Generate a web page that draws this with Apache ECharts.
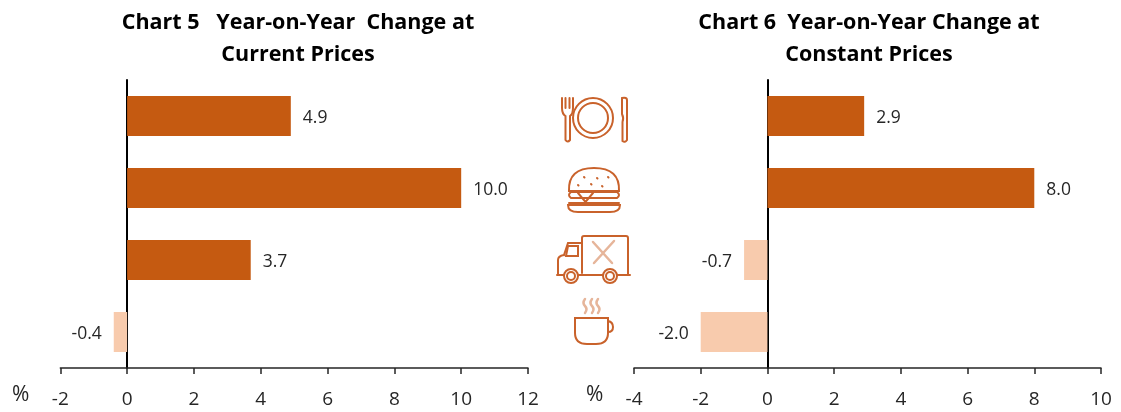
<!DOCTYPE html>
<html>
<head>
<meta charset="utf-8">
<style>
  html, body { margin: 0; padding: 0; background: #fff; }
  #chart { width: 1121px; height: 412px; }
</style>
<script src="https://cdn.jsdelivr.net/npm/echarts@6/dist/echarts.min.js"></script>
</head>
<body>
<div id="chart"></div>
<script>
const categories = ['Restaurants', 'Fast food', 'Food trucks', 'Cafes']
const currentPrices = [4.9, 10.0, 3.7, -0.4]
const constantPrices = [2.9, 8.0, -0.7, -2.0]

const FONT = '"Open Sans", "Noto Sans", sans-serif'
const BAR_COLOR = '#C55A11'
const NEG_COLOR = '#F8CBAD'
const ICON_COLOR = '#C9622B'
const ICON_PALE = '#E6B59A'

function barSeries(values, xIdx, yIdx) {
  return {
    type: 'bar',
    xAxisIndex: xIdx,
    yAxisIndex: yIdx,
    barWidth: 40,
    data: values.map((v) => ({
      value: v,
      itemStyle: { color: v < 0 ? NEG_COLOR : BAR_COLOR },
    })),
    label: {
      show: true,
      position: 'outside',
      distance: 12,
      offset: [0, 2],
      fontFamily: FONT,
      fontSize: 17.5,
      color: '#262626',
      formatter: (p) => p.value.toFixed(1),
    },
    silent: true,
  }
}

function xAxis(grid, min, max) {
  return {
    type: 'value',
    gridIndex: grid,
    position: 'bottom',
    min,
    max,
    interval: 2,
    splitLine: { show: false },
    axisLine: { show: true, onZero: false, lineStyle: { color: '#262626', width: 1.5 } },
    axisTick: { show: true, length: 6, lineStyle: { color: '#262626', width: 1.5 } },
    axisLabel: { fontFamily: FONT, fontSize: 19, color: '#262626', margin: 22 },
  }
}

function yAxis(grid) {
  return {
    type: 'category',
    gridIndex: grid,
    inverse: true,
    data: categories,
    axisLine: { show: true, lineStyle: { color: '#000', width: 2 } },
    axisTick: { show: false },
    axisLabel: { show: false },
  }
}

function title(lines, x) {
  return {
    text: lines,
    left: x,
    top: 2,
    textAlign: 'center',
    textStyle: { fontFamily: FONT, fontSize: 21.5, fontWeight: 'bold', color: '#000', lineHeight: 32 },
  }
}

function pct(x) {
  return {
    type: 'text',
    x,
    y: 385,
    style: { text: '%', fontFamily: FONT, fontSize: 21, fill: '#262626' },
  }
}

// icons between the two charts
function icon(pathData, pale) {
  return {
    type: 'path',
    shape: { pathData },
    style: { fill: 'none', stroke: pale ? ICON_PALE : ICON_COLOR, lineWidth: pale ? 2.5 : 2, lineCap: 'round' },
  }
}
function ring(cx, cy, r) {
  return {
    type: 'circle',
    shape: { cx, cy, r },
    style: { fill: '#fff', stroke: ICON_COLOR, lineWidth: 2 },
  }
}

const icons = [
  // plate, fork, knife
  ring(593, 118, 20),
  ring(593, 118, 15),
  icon('M562 98 L562 108 Q562 114 565.5 116 L565.5 140 Q567.5 143 570 140 L570 116 Q573 114 573 108 L573 98 M565.5 98 L565.5 108 M569.5 98 L569.5 108'),
  icon('M622 98 Q627 97 627 100 L627 140 Q625 143 622.5 141 L622.5 122 Q624 118 622 114 Z'),
  // burger
  icon('M569 191 Q568 168 594 168 Q620 168 619 191 Z'),
  icon('M584 177 L584.5 177.5 M597 178 L597.5 178.5 M608 177 L608.5 177.5 M578 185 L578.5 185.5 M591 184 L591.5 184.5 M602 186 L602.5 186.5'),
  icon('M571 192 L617 192 Q621 195 617 198 L571 198 Q567 195 571 192 Z'),
  icon('M578 193 L585.5 202 L593 193'),
  icon('M569 203 L619 203'),
  icon('M568 205 L620 205 Q620 212 610 212 L578 212 Q568 212 568 205 Z'),
  // truck
  icon('M582 273 L582 238 Q582 236 584 236 L626 236 Q628 236 628 238 L628 274'),
  icon('M582 243 L568 243 L564 255 Q558 256 558 260 L558 275'),
  icon('M568 246 L578 246 L578 256 L566 256 Z'),
  icon('M557 275 L630 275'),
  icon('M593 242 L612 263 M614 241 L594 263', true),
  ring(571, 276, 7),
  ring(610, 276, 7),
  ring(571, 276, 4),
  ring(610, 276, 4),
  // cup
  icon('M575 318 L608 318 L608 333 Q608 344 596 344 L587 344 Q575 344 575 333 Z'),
  icon('M608 321 Q613 322 613 327 Q613 332 608 332'),
  icon('M585 299 Q582 303 585 306 Q588 309 585 313 M592 299 Q589 303 592 306 Q595 309 592 313 M598 299 Q595 303 598 306 Q601 309 598 313', true),
]

const chart = echarts.init(document.getElementById('chart'), null, { renderer: 'canvas' })
chart.setOption({
  animation: false,
  backgroundColor: '#fff',
  title: [
    title('Chart 5   Year-on-Year  Change at\nCurrent Prices', 293),
    title('Chart 6  Year-on-Year Change at\nConstant Prices', 864),
  ],
  grid: [
    { left: 60.3, top: 80, width: 467.7, height: 288 },
    { left: 634, top: 80, width: 467, height: 288 },
  ],
  xAxis: [xAxis(0, -2, 12), xAxis(1, -4, 10)],
  yAxis: [yAxis(0), yAxis(1)],
  series: [
    barSeries(currentPrices, 0, 0),
    barSeries(constantPrices, 1, 1),
    {
      type: 'custom',
      coordinateSystem: 'none',
      silent: true,
      data: [0],
      renderItem: () => ({ type: 'group', children: icons }),
    },
  ],
  graphic: { elements: [pct(12), pct(586)] },
})
</script>
</body>
</html>
